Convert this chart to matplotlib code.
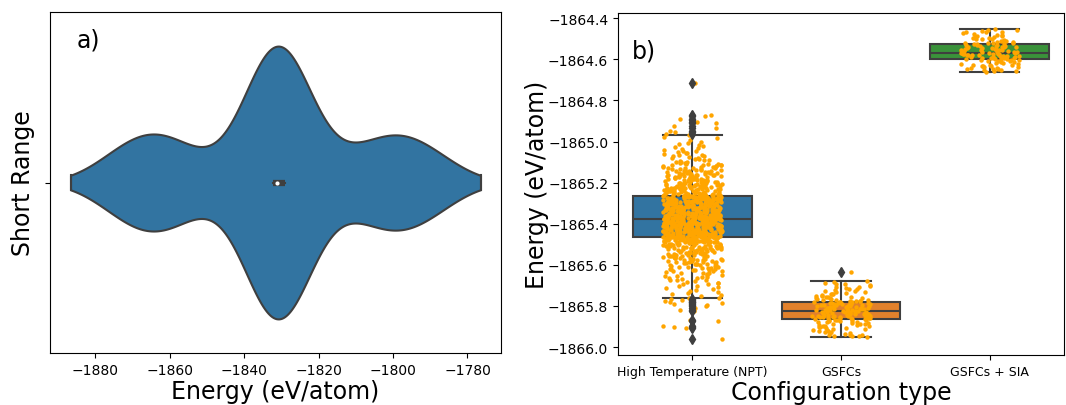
import matplotlib

matplotlib.use("Agg")
import matplotlib.pyplot as plt
import numpy as np
import seaborn as sns
from matplotlib.mlab import GaussianKDE

# panel a) short range energies (eV/atom)
SHORT_RANGE = [
    -1875.9, -1872.5, -1869.8, -1867.5, -1865.5, -1863.6, -1861.6, -1859.3, -1856.6, -1853.3,
    -1832.3, -1832.0, -1831.9, -1831.8, -1831.7, -1831.6, -1831.5, -1831.45, -1831.4,
    -1831.3, -1831.25, -1831.2, -1831.1, -1831.0, -1830.8, -1830.6, -1830.3, -1830.0,
    -1829.6, -1829.3, -1829.1, -1829.0,
    -1810.7, -1807.4, -1804.6, -1802.2, -1800.1, -1798.0, -1795.8, -1793.4, -1790.6, -1787.3,
]

# panel b) energies per configuration type (eV/atom)
CATEGORIES = ["High Temperature (NPT)", "GSFCs", "GSFCs + SIA"]

NPT = [
    -1864.716, -1864.878, -1864.889, -1864.897, -1864.912, -1864.934, -1864.948,
    -1864.955, -1864.961, -1864.968, -1864.979, -1864.993,
    -1865.004, -1865.013, -1865.022, -1865.031, -1865.039, -1865.047,
    -1865.052, -1865.058, -1865.063, -1865.069, -1865.074, -1865.081, -1865.087, -1865.092, -1865.098,
    -1865.101, -1865.104, -1865.108, -1865.112, -1865.116, -1865.119, -1865.123, -1865.127, -1865.131,
    -1865.134, -1865.138, -1865.141, -1865.145, -1865.148,
    -1865.151, -1865.153, -1865.156, -1865.159, -1865.161, -1865.164, -1865.166, -1865.169, -1865.172,
    -1865.174, -1865.177, -1865.179, -1865.182, -1865.185, -1865.187, -1865.190, -1865.193, -1865.195,
    -1865.198,
    -1865.201, -1865.203, -1865.205, -1865.207, -1865.209, -1865.211, -1865.213, -1865.215, -1865.217,
    -1865.219, -1865.221, -1865.223, -1865.225, -1865.227, -1865.229, -1865.231, -1865.233, -1865.235,
    -1865.237, -1865.239, -1865.241, -1865.243, -1865.245, -1865.247, -1865.249, -1865.251, -1865.253,
    -1865.256, -1865.259, -1865.262,
    -1865.266, -1865.267, -1865.269, -1865.270, -1865.272, -1865.273, -1865.275, -1865.276, -1865.277,
    -1865.279, -1865.280, -1865.282, -1865.283, -1865.284, -1865.286, -1865.287, -1865.289, -1865.290,
    -1865.291, -1865.293, -1865.294, -1865.296, -1865.297, -1865.298, -1865.300, -1865.301, -1865.303,
    -1865.304, -1865.305, -1865.307, -1865.308, -1865.310, -1865.311, -1865.312, -1865.314, -1865.315,
    -1865.317, -1865.318, -1865.319, -1865.321, -1865.322, -1865.324, -1865.325, -1865.326, -1865.328,
    -1865.329, -1865.331, -1865.332, -1865.333, -1865.335, -1865.336, -1865.338, -1865.339, -1865.340,
    -1865.342, -1865.343, -1865.345, -1865.346, -1865.347, -1865.349, -1865.350, -1865.351, -1865.352,
    -1865.353, -1865.354, -1865.355, -1865.356, -1865.357, -1865.358, -1865.359, -1865.360, -1865.361,
    -1865.362, -1865.363, -1865.364, -1865.365, -1865.366, -1865.367, -1865.368, -1865.369, -1865.370,
    -1865.370, -1865.371, -1865.371, -1865.372, -1865.372, -1865.373, -1865.373, -1865.374, -1865.374,
    -1865.376, -1865.376, -1865.377, -1865.377, -1865.378, -1865.378, -1865.379, -1865.379, -1865.380,
    -1865.380, -1865.381, -1865.382, -1865.383, -1865.384, -1865.385, -1865.386, -1865.387, -1865.388,
    -1865.389, -1865.390, -1865.391, -1865.392, -1865.393, -1865.394, -1865.395, -1865.396, -1865.397,
    -1865.398, -1865.399, -1865.400, -1865.401, -1865.402, -1865.403, -1865.404, -1865.405, -1865.406,
    -1865.407, -1865.408, -1865.409, -1865.410, -1865.411, -1865.412, -1865.413, -1865.414, -1865.415,
    -1865.416, -1865.417, -1865.418, -1865.419, -1865.420, -1865.421, -1865.422, -1865.423, -1865.424,
    -1865.425, -1865.426, -1865.427, -1865.428, -1865.429, -1865.430, -1865.431, -1865.432, -1865.433,
    -1865.434, -1865.435, -1865.436, -1865.437, -1865.438, -1865.439, -1865.440, -1865.441, -1865.442,
    -1865.443, -1865.444, -1865.445, -1865.446, -1865.447, -1865.448, -1865.449, -1865.450, -1865.451,
    -1865.452, -1865.453, -1865.454, -1865.455, -1865.456, -1865.458, -1865.460, -1865.462, -1865.464,
    -1865.466, -1865.467, -1865.469, -1865.470, -1865.472, -1865.473, -1865.475, -1865.476, -1865.478,
    -1865.479, -1865.481, -1865.482, -1865.484, -1865.485, -1865.487, -1865.488, -1865.490, -1865.491,
    -1865.493, -1865.495, -1865.497, -1865.499,
    -1865.502, -1865.504, -1865.507, -1865.509, -1865.511, -1865.514, -1865.516, -1865.518, -1865.521,
    -1865.523, -1865.525, -1865.528, -1865.530, -1865.532, -1865.535, -1865.537, -1865.539, -1865.542,
    -1865.545, -1865.548,
    -1865.552, -1865.555, -1865.559, -1865.562, -1865.566, -1865.569, -1865.573, -1865.576, -1865.580,
    -1865.583, -1865.587, -1865.590, -1865.594, -1865.598,
    -1865.603, -1865.608, -1865.612, -1865.617, -1865.622, -1865.627, -1865.632, -1865.637, -1865.642,
    -1865.647,
    -1865.653, -1865.659, -1865.666, -1865.672, -1865.679, -1865.686, -1865.694,
    -1865.702, -1865.713, -1865.724, -1865.736, -1865.748, -1865.759,
    -1865.768, -1865.775, -1865.783, -1865.792, -1865.801, -1865.812, -1865.824,
    -1865.866, -1865.898, -1865.906, -1865.963,
    # second batch of NPT snapshots
    -1864.872, -1864.903, -1864.925,
    -1864.984, -1865.007, -1865.018, -1865.027, -1865.036, -1865.044,
    -1865.055, -1865.061, -1865.067, -1865.072, -1865.078, -1865.084, -1865.090, -1865.096,
    -1865.103, -1865.107, -1865.111, -1865.115, -1865.121, -1865.125, -1865.129, -1865.133, -1865.137,
    -1865.140, -1865.144, -1865.147,
    -1865.152, -1865.155, -1865.158, -1865.160, -1865.163, -1865.167, -1865.170, -1865.173, -1865.176,
    -1865.178, -1865.181, -1865.184, -1865.186, -1865.189, -1865.191, -1865.194, -1865.196, -1865.199,
    -1865.202, -1865.204, -1865.206, -1865.208, -1865.210, -1865.212, -1865.214, -1865.216, -1865.218,
    -1865.220, -1865.222, -1865.224, -1865.226, -1865.228, -1865.230, -1865.232, -1865.234, -1865.236,
    -1865.238, -1865.240, -1865.242, -1865.244, -1865.246, -1865.248, -1865.252, -1865.255, -1865.258,
    -1865.263,
    -1865.266, -1865.268, -1865.269, -1865.271, -1865.272, -1865.274, -1865.275, -1865.277, -1865.278,
    -1865.280, -1865.281, -1865.283, -1865.284, -1865.285, -1865.287, -1865.288, -1865.290, -1865.291,
    -1865.292, -1865.294, -1865.295, -1865.297, -1865.298, -1865.299, -1865.301, -1865.302, -1865.304,
    -1865.305, -1865.306, -1865.308, -1865.309, -1865.311, -1865.312, -1865.313, -1865.315, -1865.316,
    -1865.318, -1865.319, -1865.320, -1865.322, -1865.323, -1865.325, -1865.326, -1865.327, -1865.329,
    -1865.330, -1865.332, -1865.333, -1865.334, -1865.336, -1865.337, -1865.339, -1865.340, -1865.341,
    -1865.343, -1865.344, -1865.346, -1865.347, -1865.348, -1865.350, -1865.351, -1865.353, -1865.354,
    -1865.356, -1865.357, -1865.359, -1865.360, -1865.362, -1865.363, -1865.365, -1865.366, -1865.368,
    -1865.369, -1865.371, -1865.373,
    -1865.377, -1865.378, -1865.379, -1865.381, -1865.382, -1865.383, -1865.384, -1865.386, -1865.387,
    -1865.388, -1865.389, -1865.391, -1865.392, -1865.393, -1865.394, -1865.396, -1865.397, -1865.398,
    -1865.399, -1865.401, -1865.402, -1865.403, -1865.404, -1865.406, -1865.407, -1865.408, -1865.409,
    -1865.411, -1865.412, -1865.413, -1865.414, -1865.416, -1865.417, -1865.418, -1865.419, -1865.421,
    -1865.422, -1865.423, -1865.424, -1865.426, -1865.427, -1865.428, -1865.429, -1865.431, -1865.432,
    -1865.433, -1865.434, -1865.436, -1865.437, -1865.438, -1865.439, -1865.441, -1865.442, -1865.443,
    -1865.444, -1865.446, -1865.447, -1865.448, -1865.449, -1865.451, -1865.452, -1865.453, -1865.454,
    -1865.456, -1865.457, -1865.458, -1865.459, -1865.460, -1865.461, -1865.462, -1865.463, -1865.463,
    -1865.464, -1865.464, -1865.464,
    -1865.466, -1865.468, -1865.470, -1865.471, -1865.473, -1865.475, -1865.477, -1865.478, -1865.480,
    -1865.482, -1865.483, -1865.485, -1865.487, -1865.489, -1865.491, -1865.494, -1865.496, -1865.498,
    -1865.501, -1865.503, -1865.506, -1865.508, -1865.510, -1865.513, -1865.515, -1865.517, -1865.520,
    -1865.522, -1865.526, -1865.529, -1865.533, -1865.536, -1865.540, -1865.543, -1865.547,
    -1865.551, -1865.554, -1865.558, -1865.561, -1865.565, -1865.570, -1865.574, -1865.578, -1865.582,
    -1865.586, -1865.591, -1865.596,
    -1865.601, -1865.606, -1865.611, -1865.615, -1865.620, -1865.625, -1865.631, -1865.638, -1865.645,
    -1865.656, -1865.663, -1865.669, -1865.676, -1865.684, -1865.692,
    -1865.705, -1865.716, -1865.729, -1865.741, -1865.752, -1865.761,
    -1865.771, -1865.779, -1865.788, -1865.796, -1865.818,
    -1865.871, -1865.901,
    # third batch, dense core of the NPT cloud
    -1865.100, -1865.106, -1865.113, -1865.118, -1865.124, -1865.130, -1865.135, -1865.139, -1865.143,
    -1865.146, -1865.150, -1865.154, -1865.157, -1865.162, -1865.165, -1865.168, -1865.171, -1865.175,
    -1865.180, -1865.183, -1865.188, -1865.192, -1865.197, -1865.200, -1865.204, -1865.207, -1865.210,
    -1865.213, -1865.216, -1865.219, -1865.222, -1865.225, -1865.228, -1865.231, -1865.234, -1865.237,
    -1865.240, -1865.243, -1865.246, -1865.249, -1865.250, -1865.252, -1865.254, -1865.255, -1865.257,
    -1865.258, -1865.260, -1865.261, -1865.262, -1865.263, -1865.264, -1865.264, -1865.220, -1865.170,
    -1865.185, -1865.232, -1865.241, -1865.211, -1865.199, -1865.226,
    -1865.267, -1865.268, -1865.271, -1865.273, -1865.274, -1865.276, -1865.278, -1865.279, -1865.282,
    -1865.285, -1865.286, -1865.288, -1865.289, -1865.292, -1865.293, -1865.295, -1865.296, -1865.299,
    -1865.300, -1865.302, -1865.303, -1865.306, -1865.307, -1865.309, -1865.310, -1865.313, -1865.314,
    -1865.316, -1865.317, -1865.320, -1865.321, -1865.323, -1865.324, -1865.327, -1865.328, -1865.330,
    -1865.331, -1865.334, -1865.335, -1865.337, -1865.338, -1865.341, -1865.342, -1865.344, -1865.345,
    -1865.348, -1865.349, -1865.352, -1865.355, -1865.358, -1865.361, -1865.364, -1865.367, -1865.369,
    -1865.370, -1865.371, -1865.372, -1865.373, -1865.374, -1865.374,
    -1865.376, -1865.377, -1865.378, -1865.380, -1865.382, -1865.383, -1865.385, -1865.386, -1865.388,
    -1865.390, -1865.391, -1865.393, -1865.395, -1865.396, -1865.398, -1865.400, -1865.401, -1865.403,
    -1865.405, -1865.406, -1865.408, -1865.410, -1865.411, -1865.413, -1865.415, -1865.416, -1865.418,
    -1865.420, -1865.421, -1865.423, -1865.425, -1865.426, -1865.428, -1865.430, -1865.431, -1865.433,
    -1865.435, -1865.436, -1865.438, -1865.440, -1865.441, -1865.443, -1865.445, -1865.446, -1865.448,
    -1865.450, -1865.451, -1865.453, -1865.455, -1865.456, -1865.457, -1865.458, -1865.459, -1865.460,
    -1865.461, -1865.462, -1865.463, -1865.463, -1865.464, -1865.464,
    -1865.466, -1865.467, -1865.468, -1865.469, -1865.471, -1865.472, -1865.474, -1865.476, -1865.477,
    -1865.479, -1865.481, -1865.483, -1865.486, -1865.488, -1865.490, -1865.492, -1865.494, -1865.497,
    -1865.500, -1865.503, -1865.505, -1865.508, -1865.511, -1865.513, -1865.516, -1865.519, -1865.522,
    -1865.524, -1865.527, -1865.531, -1865.534, -1865.538, -1865.541, -1865.544, -1865.549, -1865.553,
    -1865.557, -1865.560, -1865.564, -1865.567, -1865.571, -1865.575, -1865.579, -1865.584, -1865.588,
    -1865.593, -1865.597, -1865.602, -1865.607, -1865.613, -1865.618, -1865.624, -1865.630, -1865.640,
    -1865.650, -1865.661, -1865.674, -1865.689, -1865.710, -1865.733,
]

GSFC = [
    -1865.635, -1865.679, -1865.686, -1865.692, -1865.698, -1865.704, -1865.709, -1865.714, -1865.719,
    -1865.724, -1865.728, -1865.732, -1865.736, -1865.740, -1865.744, -1865.748, -1865.751, -1865.754,
    -1865.757, -1865.760, -1865.763, -1865.766, -1865.769, -1865.772, -1865.775, -1865.778, -1865.780,
    -1865.782, -1865.784, -1865.786, -1865.787, -1865.789, -1865.790, -1865.792, -1865.793, -1865.795,
    -1865.796, -1865.798, -1865.799, -1865.801, -1865.802, -1865.804, -1865.805, -1865.807, -1865.808,
    -1865.810, -1865.811, -1865.813, -1865.814, -1865.816, -1865.817, -1865.819, -1865.820, -1865.821,
    -1865.823, -1865.824, -1865.826, -1865.827, -1865.829, -1865.830, -1865.832, -1865.833, -1865.835,
    -1865.836, -1865.838, -1865.839, -1865.841, -1865.842, -1865.844, -1865.845, -1865.847, -1865.848,
    -1865.850, -1865.852, -1865.854, -1865.856, -1865.858, -1865.860, -1865.861, -1865.863, -1865.864,
    -1865.866, -1865.868, -1865.871, -1865.873, -1865.876, -1865.878, -1865.881, -1865.884, -1865.887,
    -1865.890, -1865.893, -1865.896, -1865.899, -1865.902, -1865.905, -1865.908, -1865.912, -1865.916,
    -1865.920, -1865.924, -1865.928, -1865.932, -1865.936, -1865.940, -1865.943, -1865.946, -1865.950,
    -1865.682, -1865.695, -1865.706, -1865.716, -1865.726, -1865.734, -1865.742, -1865.750, -1865.756,
    -1865.762, -1865.768, -1865.771, -1865.774, -1865.777, -1865.781,
    -1865.783, -1865.785, -1865.788, -1865.791, -1865.794, -1865.797, -1865.800, -1865.803, -1865.806,
    -1865.809, -1865.812, -1865.815, -1865.818, -1865.820, -1865.822,
    -1865.825, -1865.828, -1865.831, -1865.834, -1865.837, -1865.840, -1865.843, -1865.846, -1865.849,
    -1865.851, -1865.853, -1865.855, -1865.857, -1865.859, -1865.862,
    -1865.867, -1865.870, -1865.875, -1865.880, -1865.886, -1865.892, -1865.898, -1865.904, -1865.910,
    -1865.918, -1865.926, -1865.934, -1865.939, -1865.944, -1865.948,
]

SIA = [
    -1864.450, -1864.455, -1864.460, -1864.465, -1864.469, -1864.473, -1864.477, -1864.481, -1864.485,
    -1864.489, -1864.493, -1864.497, -1864.500, -1864.503, -1864.507, -1864.510, -1864.513, -1864.516,
    -1864.519, -1864.522,
    -1864.524, -1864.527, -1864.529, -1864.531, -1864.533, -1864.535, -1864.538, -1864.540, -1864.542,
    -1864.544, -1864.546, -1864.549, -1864.551, -1864.553, -1864.555, -1864.557, -1864.560, -1864.562,
    -1864.564, -1864.566,
    -1864.568, -1864.570, -1864.572, -1864.573, -1864.575, -1864.577, -1864.578, -1864.580, -1864.582,
    -1864.583, -1864.585, -1864.587, -1864.588, -1864.590, -1864.592, -1864.593, -1864.595, -1864.597,
    -1864.598, -1864.600,
    -1864.602, -1864.605, -1864.607, -1864.610, -1864.613, -1864.616, -1864.619, -1864.622, -1864.625,
    -1864.628, -1864.631, -1864.634, -1864.637, -1864.640, -1864.643, -1864.646, -1864.649, -1864.652,
    -1864.656, -1864.660,
    -1864.457, -1864.467, -1864.479, -1864.487, -1864.495, -1864.502, -1864.509, -1864.514, -1864.518,
    -1864.521,
    -1864.526, -1864.530, -1864.534, -1864.539, -1864.543, -1864.548, -1864.552, -1864.556, -1864.561,
    -1864.565,
    -1864.569, -1864.571, -1864.574, -1864.576, -1864.579, -1864.584, -1864.589, -1864.591, -1864.594,
    -1864.599,
    -1864.604, -1864.609, -1864.615, -1864.621, -1864.627, -1864.633, -1864.639, -1864.645, -1864.651,
    -1864.658,
]

BOX_COLORS = ["#3274A1", "#E1812C", "#3A923A"]
GRAY = "#3F3F3F"
KDE_BW = 9.0   # eV/atom, kernel width for the violin
KDE_CUT = 1.2  # how far the violin runs past the data, in kernel widths


def draw_violin(ax, data):
    data = np.asarray(data)
    kde = GaussianKDE(data, bw_method=KDE_BW / data.std(ddof=1))
    grid = np.linspace(data.min() - KDE_CUT * KDE_BW, data.max() + KDE_CUT * KDE_BW, 300)
    dens = kde.evaluate(grid)
    dens = dens / dens.max() * 0.4
    ax.fill_between(grid, -dens, dens, facecolor=BOX_COLORS[0], edgecolor=GRAY,
                    linewidth=1.5, zorder=1)
    ax.plot([grid[0], grid[0]], [-dens[0], dens[0]], color=GRAY, lw=1.5)
    ax.plot([grid[-1], grid[-1]], [-dens[-1], dens[-1]], color=GRAY, lw=1.5)

    q1, med, q3 = np.percentile(data, [25, 50, 75])
    iqr = q3 - q1
    lo = data[data >= q1 - 1.5 * iqr].min()
    hi = data[data <= q3 + 1.5 * iqr].max()
    ax.plot([lo, hi], [0, 0], color=GRAY, lw=1.5, zorder=2)
    ax.plot([q1, q3], [0, 0], color=GRAY, lw=4.5, solid_capstyle="butt", zorder=2)
    ax.scatter([med], [0], s=9, color="white", edgecolor=GRAY, linewidth=0, zorder=3)


fig = plt.figure(figsize=(10.66, 4.06), dpi=100)
ax_a = fig.add_axes([50 / 1066, 52 / 406, 451 / 1066, 341 / 406])
ax_b = fig.add_axes([618 / 1066, 50 / 406, 446 / 1066, 342 / 406])

# a) violin
draw_violin(ax_a, SHORT_RANGE)
ax_a.set_ylim(0.5, -0.5)
ax_a.set_yticks([0])
ax_a.set_yticklabels([""])
ax_a.set_ylabel("Short Range", fontsize=17)
ax_a.set_xlabel("Energy (eV/atom)", fontsize=17, labelpad=2)
ax_a.tick_params(labelsize=10)
ax_a.text(0.058, 0.9, "a)", transform=ax_a.transAxes, fontsize=17)

# b) box + strip
groups = [NPT, GSFC, SIA]
bp = ax_b.boxplot(groups, positions=[0, 1, 2], widths=0.8, whis=1.5, patch_artist=True,
                  capwidths=0.4,
                  boxprops=dict(edgecolor=GRAY, linewidth=1.5),
                  medianprops=dict(color=GRAY, linewidth=1.5),
                  whiskerprops=dict(color=GRAY, linewidth=1.5),
                  capprops=dict(color=GRAY, linewidth=1.5),
                  flierprops=dict(marker="d", markerfacecolor=GRAY, markeredgecolor=GRAY,
                                  markersize=5))
for patch, color in zip(bp["boxes"], BOX_COLORS):
    patch.set_facecolor(color)
for flier in bp["fliers"]:
    flier.set_zorder(4)

np.random.seed(3)
labels = [cat for cat, grp in zip(CATEGORIES, groups) for _ in grp]
values = [v for grp in groups for v in grp]
sns.stripplot(x=labels, y=values, order=CATEGORIES, color="orange", size=3.2, jitter=0.2,
              linewidth=0, ax=ax_b, zorder=3)

ax_b.set_xlim(-0.5, 2.5)
ax_b.set_xticks([0, 1, 2])
ax_b.set_xticklabels(CATEGORIES, fontsize=9)
ax_b.tick_params(axis="y", labelsize=10)
ax_b.set_ylabel("Energy (eV/atom)", fontsize=17, labelpad=-1)
ax_b.set_xlabel("Configuration type", fontsize=17, labelpad=2)
ax_b.text(0.03, 0.87, "b)", transform=ax_b.transAxes, fontsize=17)

fig.savefig("out.png", dpi=100, facecolor="white")
